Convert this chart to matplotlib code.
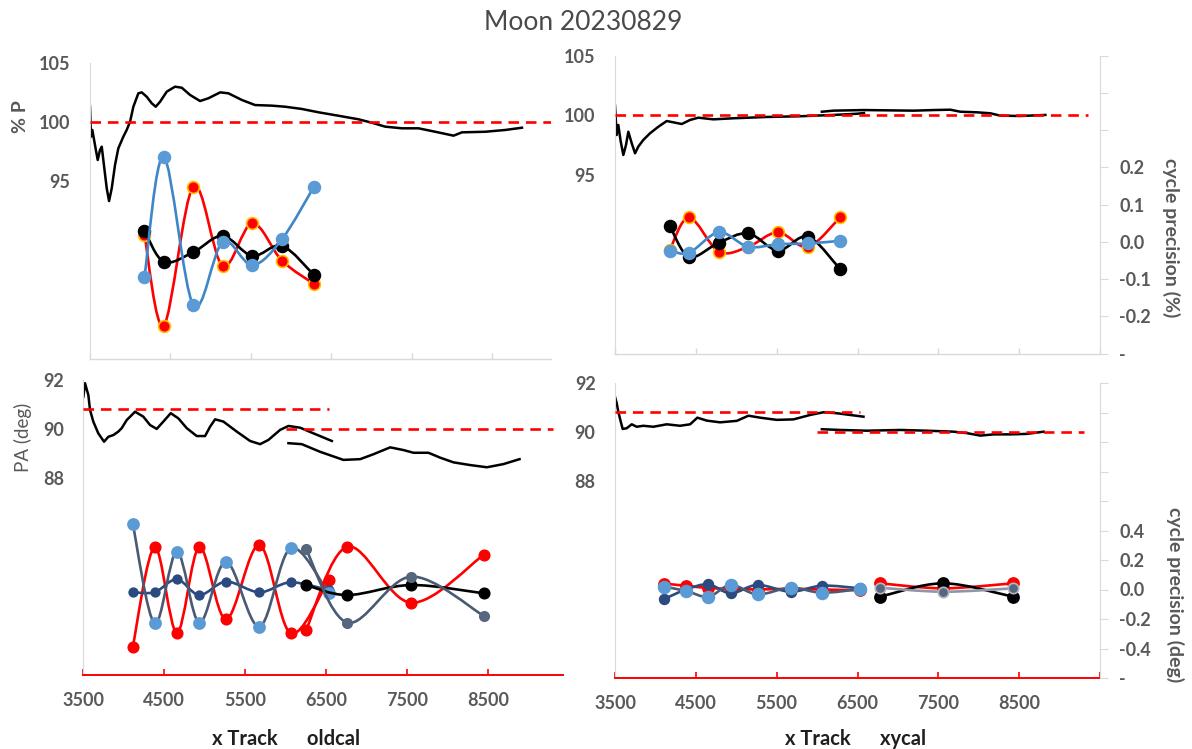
import numpy as np
import matplotlib
matplotlib.use("Agg")
import matplotlib.pyplot as plt
from matplotlib.path import Path
from matplotlib.patches import PathPatch

plt.rcParams['font.family'] = ['Lato', 'DejaVu Sans']

W, H = 1192, 749
GREY = '#595959'
AXIS_GREY = '#D9D9D9'
RED = '#FF0000'
GOLD = '#FFC000'
LBLUE = '#5B9BD5'
MBLUE = '#3F86C8'
NAVY = '#2B4A80'
SLATE = '#4A5A72'

# ---------------- data: %P (top) ----------------
ref_top_x = [3500, 9350]
ref_top_y = [100, 100]

tl_curve_x = [3500, 3512, 3529, 3562, 3596, 3624, 3646, 3678, 3708, 3737, 3770, 3811,
              3852, 3914, 3956, 3998, 4039, 4101, 4143, 4205, 4267, 4317, 4371, 4454,
              4557, 4641, 4744, 4868, 4971, 5118, 5220, 5387, 5552, 5760, 5925, 6133,
              6340, 6588, 6837, 7004, 7169, 7377, 7583, 7791, 8019, 8123, 8413, 8662, 8869]
tl_curve_y = [101.29, 98.76, 99.33, 98.06, 96.80, 97.64, 97.92, 96.10, 94.41, 93.34, 94.41, 96.38,
              97.78, 98.76, 99.33, 100.03, 101.29, 102.42, 102.50, 102.13, 101.58, 101.29, 101.71, 102.56,
              102.98, 102.89, 102.28, 101.77, 102.0, 102.50, 102.42, 101.86, 101.43, 101.38, 101.29, 101.10,
              100.82, 100.53, 100.23, 99.94, 99.61, 99.47, 99.47, 99.18, 98.85, 99.13, 99.18, 99.33, 99.52]

tr_c1_x = [3500, 3521, 3541, 3571, 3603, 3636, 3665, 3707, 3748, 3788, 3850, 3933, 4036,
           4140, 4222, 4326, 4429, 4531, 4717, 4965, 5378, 5791, 6203, 6493, 6580]
tr_c1_y = [100.81, 98.35, 99.19, 97.79, 96.67, 97.51, 98.62, 97.65, 96.81, 97.37, 97.93, 98.49, 99.04,
           99.52, 99.41, 99.27, 99.61, 99.80, 99.66, 99.75, 99.86, 99.92, 100.03, 100.13, 100.19]
tr_c2_x = [6059, 6203, 6574, 6822, 7194, 7441, 7648, 7772, 7979, 8143, 8267, 8515, 8824]
tr_c2_y = [100.30, 100.39, 100.44, 100.42, 100.39, 100.44, 100.47, 100.30, 100.25, 100.17,
           99.97, 99.94, 100.03]

top_pts_x = [4177, 4417, 4785, 5148, 5516, 5886, 6285]
tl_black = [0.047, -0.037, -0.011, 0.033, -0.021, 0.006, -0.073]
tl_red = [0.035, -0.209, 0.166, -0.048, 0.067, -0.034, -0.097]
tl_blue = [-0.077, 0.246, -0.154, 0.016, -0.046, 0.024, 0.166]
tr_black = [0.044, -0.040, -0.002, 0.023, -0.023, 0.014, -0.073]
tr_red = [-0.022, 0.066, -0.026, -0.013, 0.026, -0.013, 0.066]
tr_blue = [-0.023, -0.029, 0.026, -0.013, -0.006, -0.004, 0.003]

# ---------------- data: PA (bottom) ----------------
ref_pa1_x = [3500, 6530]
ref_pa1_y = [90.83, 90.83]
ref_pa2_x = [6000, 9300]
ref_pa2_y = [90.0, 90.0]

bl_c1_x = [3500, 3520, 3561, 3582, 3622, 3684, 3755, 3808, 3870, 3931, 3973, 4035, 4138, 4240,
           4323, 4406, 4488, 4579, 4673, 4777, 4900, 5003, 5065, 5127, 5229, 5395, 5559, 5683,
           5785, 5930, 6033, 6177, 6342, 6569]
bl_c1_y = [91.32, 91.87, 91.39, 90.78, 90.31, 89.83, 89.49, 89.69, 89.76, 89.90, 90.04, 90.37, 90.71,
           90.51, 90.17, 90.01, 90.31, 90.65, 90.44, 90.04, 89.72, 89.72, 90.10, 90.40, 90.31, 89.90,
           89.52, 89.39, 89.56, 89.97, 90.13, 90.06, 89.83, 89.52]
bl_c2_x = [6033, 6198, 6424, 6712, 6919, 7083, 7290, 7454, 7578, 7763, 7908, 8072, 8278, 8485, 8690, 8888]
bl_c2_y = [89.43, 89.39, 89.08, 88.75, 88.78, 88.98, 89.26, 89.15, 89.04, 89.04, 88.84, 88.65,
           88.54, 88.45, 88.58, 88.78]

br_c1_x = [3500, 3521, 3541, 3571, 3595, 3645, 3707, 3769, 3850, 3974, 4140, 4305, 4429, 4519,
           4635, 4800, 5007, 5151, 5295, 5502, 5708, 5914, 6079, 6245, 6574]
br_c1_y = [91.44, 91.18, 90.83, 90.43, 90.13, 90.16, 90.32, 90.22, 90.26, 90.22, 90.32, 90.26, 90.32,
           90.59, 90.47, 90.40, 90.46, 90.67, 90.59, 90.50, 90.52, 90.70, 90.81, 90.77, 90.63]
br_c2_x = [6059, 6286, 6617, 7029, 7359, 7689, 7855, 8019, 8184, 8391, 8598, 8803]
br_c2_y = [90.12, 90.09, 90.06, 90.09, 90.06, 90.02, 89.96, 89.86, 89.91, 89.91, 89.93, 90.02]

bot_pts1_x = [4110, 4380, 4655, 4933, 5263, 5675, 6060, 6530]
bl_red1 = [-0.408, 0.266, -0.313, 0.266, -0.222, 0.281, -0.317, 0.044]
bl_lblue = [0.424, -0.250, 0.236, -0.245, 0.168, -0.272, 0.259, -0.046]
bl_navy = [-0.039, -0.039, 0.049, -0.058, 0.033, -0.039, 0.028, -0.024]
bl_pts2_x = [6251, 6762, 7549, 8443]
bl_red2 = [-0.295, 0.270, -0.110, 0.214]
bl_black2 = [0.010, -0.058, 0.010, -0.046]
bl_gray2 = [0.252, -0.245, 0.067, -0.198]

br_red1 = [0.040, 0.025, 0.010, 0.005, 0.0, 0.005, 0.0, -0.005]
br_lblue = [0.019, -0.010, -0.049, 0.031, -0.033, 0.012, -0.022, 0.003]
br_navy = [-0.064, 0.0, 0.035, -0.026, 0.031, -0.015, 0.026, 0.008]
br_pts2_x = [6780, 7560, 8425]
br_red2 = [0.042, 0.008, 0.042]
br_black2 = [-0.049, 0.042, -0.049]
br_gray2 = [0.012, -0.015, 0.008]

x_tick_labels = ['3500', '4500', '5500', '6500', '7500', '8500']


fig = plt.figure(figsize=(W / 100, H / 100), dpi=100)


def px_rect(left, right, top, bottom):
    return [left / W, 1 - bottom / H, (right - left) / W, (bottom - top) / H]


def smooth_path(x, y):
    # Excel-style smoothed line: Catmull-Rom segments as cubic Beziers
    pts = np.column_stack([x, y]).astype(float)
    n = len(pts)
    verts = [pts[0]]
    codes = [Path.MOVETO]
    for i in range(n - 1):
        p0 = pts[max(i - 1, 0)]
        p1, p2 = pts[i], pts[i + 1]
        p3 = pts[min(i + 2, n - 1)]
        verts += [p1 + (p2 - p0) / 6.0, p2 - (p3 - p1) / 6.0, p2]
        codes += [Path.CURVE4] * 3
    return Path(verts, codes)


def series(ax, x, y, line, face, edge, ms=8.5, lw=1.9, z=3):
    ax.add_patch(PathPatch(smooth_path(x, y), facecolor='none', edgecolor=line,
                           lw=lw, zorder=z, joinstyle='round'))
    ax.plot(x, y, ls='none', marker='o', ms=ms, mfc=face, mec=edge, mew=1.2, zorder=z + 0.1)


def panel(rect, xmax, ylim, yticks, rlim, rstep, rshow, bottom, right):
    ax = fig.add_axes(rect)
    ax.set_xlim(3500, xmax)
    ax.set_ylim(*ylim)
    xt = np.arange(3500, xmax + 1, 1000)
    ax.set_xticks(xt)
    ax.set_xticklabels([x_tick_labels[k] if k < len(x_tick_labels) else ''
                        for k in range(len(xt))])
    ax.set_yticks(yticks)
    ax.set_yticklabels([str(v) for v in yticks])
    for s in ('top', 'right'):
        ax.spines[s].set_visible(False)
    ax.spines['left'].set_color(AXIS_GREY)
    axcol = RED if bottom else AXIS_GREY
    ax.spines['bottom'].set_color(axcol)
    ax.spines['bottom'].set_linewidth(1.4 if bottom else 1.0)
    ax.tick_params(axis='y', length=0, labelsize=13, labelcolor=GREY, pad=14)
    ax.tick_params(axis='x', direction='in', length=4, width=1.2 if bottom else 1.0,
                   color=axcol, labelsize=13, labelcolor=GREY, pad=12,
                   labelbottom=bottom)
    for lbl in ax.get_xticklabels() + ax.get_yticklabels():
        lbl.set_fontweight('bold')

    ax2 = ax.twinx()
    ax2.set_ylim(*rlim)
    for s in ('top', 'left', 'bottom'):
        ax2.spines[s].set_visible(False)
    if right:
        ax2.spines['right'].set_color(AXIS_GREY)
        rt = np.arange(rlim[0], rlim[1] + 1e-9, rstep)
        labels = []
        for k, v in enumerate(rt):
            if k == 0:
                labels.append('-')
            elif abs(v) <= rshow + 1e-9:
                labels.append('0.0' if abs(v) < 1e-9 else f'{v:.1f}')
            else:
                labels.append('')
        ax2.set_yticks(rt)
        ax2.set_yticklabels(labels)
        ax2.tick_params(axis='y', direction='out', length=6, color=AXIS_GREY,
                        labelsize=13, labelcolor=GREY, pad=8)
        for lbl in ax2.get_yticklabels():
            lbl.set_fontweight('bold')
    else:
        ax2.spines['right'].set_visible(False)
        ax2.set_yticks([])
    return ax, ax2


dash = dict(color=RED, lw=1.9, dashes=(4, 2.6), zorder=3)
curve = dict(color='black', lw=1.8, zorder=2)

# ---- top left: %P oldcal ----
ax, ax2 = panel(px_rect(90, 551, 62.7, 359.3), 9230, (80, 105), [95, 100, 105],
                (-0.3, 0.5), 0.1, 0.2, False, False)
ax.plot(tl_curve_x, tl_curve_y, **curve)
ax.plot(ref_top_x, ref_top_y, **dash)
series(ax2, top_pts_x, tl_red, RED, RED, GOLD, z=3)
series(ax2, top_pts_x, tl_black, 'black', 'black', 'black', z=4)
series(ax2, top_pts_x, tl_blue, MBLUE, LBLUE, LBLUE, z=5)

# ---- top right: %P xycal ----
ax, ax2 = panel(px_rect(615, 1100, 55.7, 353.7), 9500, (80, 105), [95, 100, 105],
                (-0.3, 0.5), 0.1, 0.2, False, True)
ax.plot(tr_c1_x, tr_c1_y, **curve)
ax.plot(tr_c2_x, tr_c2_y, **curve)
ax.plot(ref_top_x, ref_top_y, **dash)
series(ax2, top_pts_x, tr_red, RED, RED, GOLD, z=3)
series(ax2, top_pts_x, tr_black, 'black', 'black', 'black', z=4)
series(ax2, top_pts_x, tr_blue, MBLUE, LBLUE, LBLUE, z=5)

# ---- bottom left: PA oldcal ----
ax, ax2 = panel(px_rect(83.4, 562.6, 380, 675), 9420, (80, 92), [88, 90, 92],
                (-0.6, 1.4), 0.2, 0.4, True, False)
ax.plot(bl_c1_x, bl_c1_y, **curve)
ax.plot(bl_c2_x, bl_c2_y, **curve)
ax.plot(ref_pa1_x, ref_pa1_y, **dash)
ax.plot(ref_pa2_x, ref_pa2_y, **dash)
series(ax2, bot_pts1_x, bl_red1, RED, RED, RED, ms=7.5, z=3)
series(ax2, bot_pts1_x, bl_navy, NAVY, NAVY, NAVY, ms=6.2, z=4)
series(ax2, bot_pts1_x, bl_lblue, SLATE, LBLUE, LBLUE, ms=8.0, z=5)
series(ax2, bl_pts2_x, bl_red2, RED, RED, RED, ms=7.5, z=6)
series(ax2, bl_pts2_x, bl_black2, 'black', 'black', 'black', ms=7.5, z=7)
series(ax2, bl_pts2_x, bl_gray2, SLATE, '#56667E', '#56667E', ms=6.8, z=8)

# ---- bottom right: PA xycal ----
ax, ax2 = panel(px_rect(615, 1100, 383, 678), 9500, (80, 92), [88, 90, 92],
                (-0.6, 1.4), 0.2, 0.4, True, True)
ax.plot(br_c1_x, br_c1_y, **curve)
ax.plot(br_c2_x, br_c2_y, **curve)
ax.plot(ref_pa1_x, ref_pa1_y, **dash)
ax.plot(ref_pa2_x, ref_pa2_y, **dash)
series(ax2, bot_pts1_x, br_red1, RED, RED, RED, ms=8.0, z=3)
series(ax2, bot_pts1_x, br_navy, NAVY, NAVY, NAVY, ms=7.0, z=4)
series(ax2, bot_pts1_x, br_lblue, SLATE, LBLUE, LBLUE, ms=8.5, z=5)
series(ax2, br_pts2_x, br_red2, RED, RED, RED, ms=8.0, z=6)
series(ax2, br_pts2_x, br_black2, 'black', 'black', 'black', ms=8.0, z=7)
series(ax2, br_pts2_x, br_gray2, '#8C96A5', '#56667E', '#B0B7C2', ms=7.5, z=8)

# ---- texts ----
fig.text(583 / W, 1 - 22 / H, 'Moon 20230829', ha='center', va='center',
         fontsize=19, color='#4A4A4A')
fig.text(20 / W, 1 - 117 / H, '% P', rotation=90, ha='center', va='center',
         fontsize=14, fontweight='bold', color=GREY)
fig.text(23 / W, 1 - 437.5 / H, 'PA (deg)', rotation=90, ha='center', va='center',
         fontsize=13.5, color=GREY)
fig.text(1171 / W, 1 - 238 / H, 'cycle precision (%)', rotation=270, ha='center',
         va='center', fontsize=14, fontweight='bold', color=GREY)
fig.text(1175 / W, 1 - 595 / H, 'cycle precision (deg)', rotation=270, ha='center',
         va='center', fontsize=14, fontweight='bold', color=GREY)
fig.text(286 / W, 1 - 739 / H, 'x Track      oldcal', ha='center', va='center',
         fontsize=14.5, fontweight='bold', color='#1F1F1F')
fig.text(856 / W, 1 - 739 / H, 'x Track      xycal', ha='center', va='center',
         fontsize=14.5, fontweight='bold', color='#1F1F1F')

fig.savefig('out.png', dpi=100)
